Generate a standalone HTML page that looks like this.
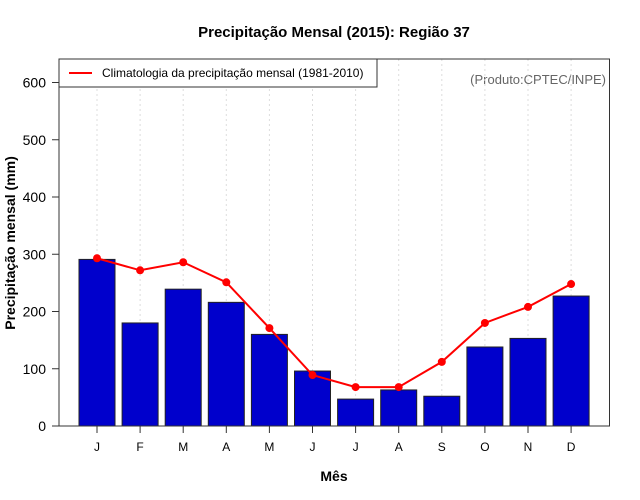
<!DOCTYPE html>
<html><head><meta charset="utf-8"><style>body{margin:0;background:#fff}svg{display:block;font-family:"Liberation Sans",sans-serif}</style></head>
<body>
<svg id="chart" width="640" height="500">
<text x="334" y="37" text-anchor="middle" font-size="15" font-weight="bold">Precipitação Mensal (2015): Região 37</text>
<text x="334" y="481" text-anchor="middle" font-size="14" font-weight="bold">Mês</text>
<text transform="translate(15,243) rotate(-90)" text-anchor="middle" font-size="14" font-weight="bold">Precipitação mensal (mm)</text>
<text x="606" y="84" text-anchor="end" font-size="13" fill="#666">(Produto:CPTEC/INPE)</text>
<g id="grid"></g><g id="bars"></g><g id="line"></g><g id="axes"></g>
<rect x="59" y="59" width="550.5" height="367" fill="none" stroke="#333" stroke-width="1"/>
<g>
<rect x="59" y="59" width="318" height="28" fill="#fff" stroke="#333" stroke-width="1"/>
<line x1="69" y1="73" x2="92" y2="73" stroke="red" stroke-width="2"/>
<text x="102" y="77" font-size="12">Climatologia da precipitação mensal (1981-2010)</text>
</g>
</svg>
<script>
const months=["J","F","M","A","M","J","J","A","S","O","N","D"];
const precip2015=[291,180,239,216,160,96,47,63,52,138,153,227];
const climatology=[293,272,286,251,171,89,68,68,112,180,208,248];
const yTicks=[0,100,200,300,400,500,600];
const NS="http://www.w3.org/2000/svg";
const xs=i=>97+i*43.1;
const ys=v=>426-v*0.5725;
function mk(parent,tag,attrs){const e=document.createElementNS(NS,tag);for(const k in attrs)e.setAttribute(k,attrs[k]);document.getElementById(parent).appendChild(e);return e;}
months.forEach((m,i)=>{
  const g=mk("grid","line",{x1:xs(i),x2:xs(i),y1:59,y2:426,stroke:"#ddd","stroke-dasharray":"2,3"});
  
  
  const b=mk("bars","rect",{x:xs(i)-18,y:ys(precip2015[i]),width:36,height:426-ys(precip2015[i]),fill:"#0000cc",stroke:"#222","stroke-width":1});
  
  
  const t=mk("axes","line",{x1:xs(i),x2:xs(i),y1:426,y2:433,stroke:"#333"});
  
  
  const l=mk("axes","text",{x:xs(i),y:451,"text-anchor":"middle","font-size":12});
  l.textContent=m;
  
  
});
const pl=mk("line","polyline",{points:climatology.map((v,i)=>xs(i)+","+ys(v)).join(" "),fill:"none",stroke:"red","stroke-width":2});


climatology.forEach((v,i)=>{
  const c=mk("line","circle",{cx:xs(i),cy:ys(v),r:4,fill:"red"});
  
  
});
yTicks.forEach(v=>{
  const t=mk("axes","line",{x1:52,x2:59,y1:ys(v),y2:ys(v),stroke:"#333"});
  
  
  const l=mk("axes","text",{x:46,y:ys(v)+5,"text-anchor":"end","font-size":14});
  l.textContent=v;
  
  
});
</script>
</body></html>
